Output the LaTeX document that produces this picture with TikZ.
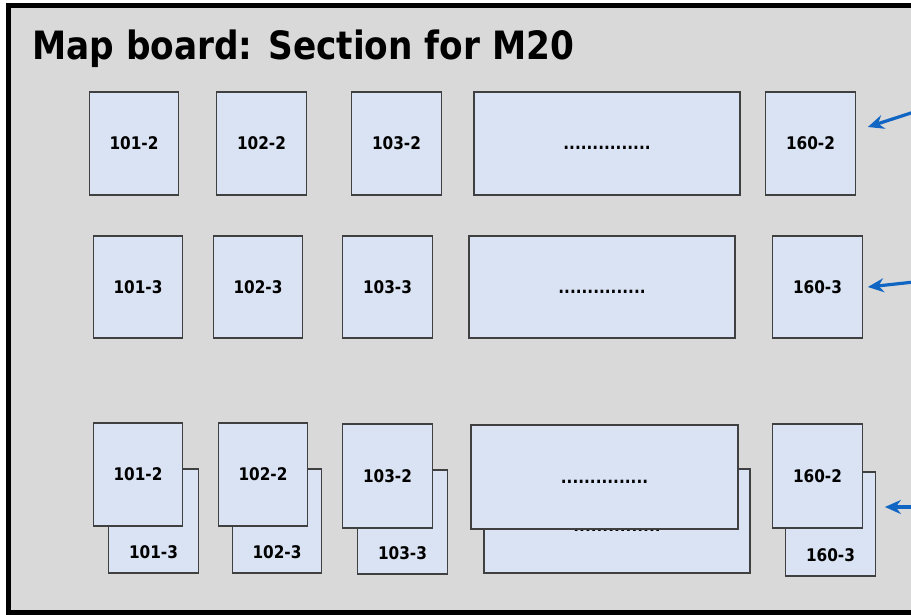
\documentclass[tikz,border=0pt]{standalone}
\usepackage{fontspec}
\setmainfont[FakeStretch=0.88]{DejaVu Sans}
\usetikzlibrary{arrows.meta}
\definecolor{boardgray}{HTML}{D9D9D9}
\definecolor{boxblue}{HTML}{DAE3F3}
\definecolor{boxline}{HTML}{404040}
\definecolor{arrowblue}{RGB}{17,102,196}
\begin{document}
\begin{tikzpicture}[x=1pt,y=-1pt,
  lbltxt/.style={font=\bfseries\fontsize{17.4}{20}\selectfont, text=black, text height=12.7pt, text depth=0pt},
  bx/.style={draw=boxline, fill=boxblue, line width=1.2pt, inner sep=0pt, lbltxt},
  sq/.style={bx, minimum width=89.5pt, minimum height=103pt},
  wide/.style={bx, minimum width=266pt, minimum height=103pt},
  backlbl/.style={label={[lbltxt, inner sep=0pt, yshift=-31pt]center:#1}},
  arr/.style={draw=arrowblue, line width=3.2pt, -{Stealth[length=16pt,width=14pt]}},
  title/.style={font=\bfseries\fontsize{39}{46}\selectfont, inner sep=0pt, anchor=base west}
]
\useasboundingbox (0,0) rectangle (911,614);
\clip (0,0) rectangle (911,614);
\fill[white] (0,0) rectangle (911,614);
% board
\draw[fill=boardgray, draw=black, line width=5pt] (8.5,5.5) rectangle (950,612.5);
\node[title] (ttl) at (32,59) {Map board: Section for M20};

% row 1
\node[sq] (a1) at (134,143.5) {101-2};
\node[sq] (a2) at (261.5,143.5) {102-2};
\node[sq] (a3) at (396.5,143.5) {103-2};
\node[wide] (a4) at (607,143.5) {...............};
\node[sq] (a5) at (810.5,143.5) {160-2};

% row 2
\node[sq, minimum height=102pt] (b1) at (138,287) {101-3};
\node[sq, minimum height=102pt] (b2) at (258,287) {102-3};
\node[sq, minimum height=102pt] (b3) at (387.5,287) {103-3};
\node[wide, minimum height=102pt] (b4) at (602,287) {...............};
\node[sq, minimum height=102pt] (b5) at (817.5,287) {160-3};

% row 3 back
\node[sq, minimum height=104pt, backlbl=101-3] (c1) at (153.5,521) {};
\node[sq, minimum height=104pt, backlbl=102-3] (c2) at (277,521) {};
\node[sq, minimum height=104pt, backlbl=103-3] (c3) at (402.5,522) {};
\node[wide, minimum height=104pt, label={[lbltxt, inner sep=0pt, yshift=-4pt]center:...............}] (c4) at (617,521) {};
\node[sq, minimum height=104pt, backlbl=160-3] (c5) at (830.5,524) {};

% row 3 front
\node[sq] (d1) at (138,474.5) {101-2};
\node[sq] (d2) at (263,474.5) {102-2};
\node[sq, minimum height=104pt] (d3) at (387.5,476) {103-2};
\node[wide, minimum width=267pt, minimum height=104pt] (d4) at (604.5,477) {...............};
\node[sq, minimum height=104pt] (d5) at (817.5,476) {160-2};

% arrows
\coordinate (t1) at (914,112);
\coordinate (t2) at (914,282);
\coordinate (t3) at (914,507);
\draw[arr] (t1) -- ([shift={(12pt,16.5pt)}]a5.east);
\draw[arr] (t2) -- ([shift={(5pt,0pt)}]b5.east);
\draw[arr] (t3) -- ([shift={(9pt,17pt)}]c5.east);
\end{tikzpicture}
\end{document}
